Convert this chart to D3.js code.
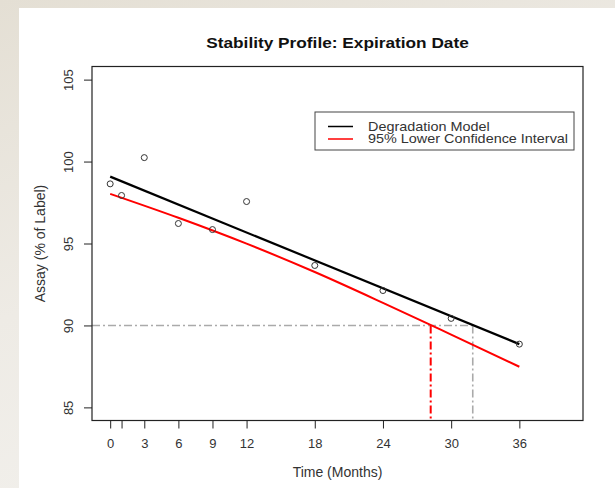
<!DOCTYPE html>
<html>
<head>
<meta charset="utf-8">
<script src="https://cdn.jsdelivr.net/npm/d3@7"></script>
<style>
html, body { margin: 0; padding: 0; }
body {
    width: 615px; height: 488px; overflow: hidden;
    background: linear-gradient(160deg, #e4dfd4 0%, #eeebe5 45%, #f4f3f0 100%);
}
svg { position: absolute; left: 0; top: 0; }
text { font-family: "Liberation Sans", Arial, sans-serif; }
</style>
</head>
<body>
<svg id="chart" width="615" height="488"></svg>
<script>
'use strict';

// observed assay results
var months = [0, 1, 3, 6, 9, 12, 18, 24, 30, 36];
var assay = [98.64, 97.93, 100.24, 96.22, 95.85, 97.56, 93.66, 92.13, 90.43, 88.86];

// fitted degradation model (straight line)
var modelMonths = [0, 36];
var modelValues = [99.08, 88.86];

// 95% lower confidence bound
var lowerMonths = [0, 6, 12, 18, 24, 30, 36];
var lowerValues = [98.03, 96.57, 94.99, 93.26, 91.38, 89.44, 87.48];

// spec limit and where the curves cross it
var specLimit = 90;
var expiryLower = 28.2;
var expiryModel = 31.9;

var xTicks = [0, 1, 3, 6, 9, 12, 18, 24, 30, 36];
var yTicks = [85, 90, 95, 100, 105];

var legendLabels = ['Degradation Model', '95% Lower Confidence Interval'];
var legendColors = ['#000000', '#ff0000'];

var svg = d3.select('#chart');

// white page
svg.append('rect')
    .attr('x', 19).attr('y', 8)
    .attr('width', 615 - 19).attr('height', 488 - 8)
    .attr('fill', '#ffffff');

var x = d3.scaleLinear().domain([-1.6, 41.6]).range([92, 583]);
var y = d3.scaleLinear().domain([84.2, 105.8]).range([420.5, 66.5]);

// reference lines at the spec limit
svg.append('line')
    .attr('x1', x.range()[0]).attr('x2', x(expiryModel))
    .attr('y1', y(specLimit)).attr('y2', y(specLimit))
    .attr('stroke', '#aaaaaa').attr('stroke-width', 1.6)
    .attr('stroke-dasharray', '8,3,2,3');
svg.append('line')
    .attr('x1', x(expiryModel)).attr('x2', x(expiryModel))
    .attr('y1', y(specLimit)).attr('y2', y.range()[0])
    .attr('stroke', '#aaaaaa').attr('stroke-width', 1.6)
    .attr('stroke-dasharray', '8,3,2,3');
svg.append('line')
    .attr('x1', x(expiryLower)).attr('x2', x(expiryLower))
    .attr('y1', y(specLimit)).attr('y2', y.range()[0])
    .attr('stroke', '#ff0000').attr('stroke-width', 2)
    .attr('stroke-dasharray', '8,3,2,3');

var line = d3.line()
    .x(function(d) { return x(d[0]); })
    .y(function(d) { return y(d[1]); });

svg.append('path')
    .datum(d3.zip(modelMonths, modelValues))
    .attr('d', line)
    .attr('fill', 'none').attr('stroke', '#000000').attr('stroke-width', 2.2);

svg.append('path')
    .datum(d3.zip(lowerMonths, lowerValues))
    .attr('d', line.curve(d3.curveMonotoneX))
    .attr('fill', 'none').attr('stroke', '#ff0000').attr('stroke-width', 2);

svg.selectAll('circle.pt')
    .data(d3.zip(months, assay))
    .enter().append('circle')
    .attr('class', 'pt')
    .attr('cx', function(d) { return x(d[0]); })
    .attr('cy', function(d) { return y(d[1]); })
    .attr('r', 3)
    .attr('fill', 'none').attr('stroke', '#333333').attr('stroke-width', 1);

// plot box
svg.append('rect')
    .attr('x', x.range()[0]).attr('y', y.range()[1])
    .attr('width', x.range()[1] - x.range()[0])
    .attr('height', y.range()[0] - y.range()[1])
    .attr('fill', 'none').attr('stroke', '#222222').attr('stroke-width', 1.2);

// axes
var xAxis = d3.axisBottom(x)
    .tickValues(xTicks)
    .tickSize(8)
    .tickPadding(10)
    .tickFormat(function(d) { return d === 1 ? '' : d; });

svg.append('g')
    .attr('transform', 'translate(0,' + y.range()[0] + ')')
    .call(xAxis)
    .call(function(g) { g.select('.domain').remove(); })
    .call(function(g) {
        g.attr('font-family', '"Liberation Sans", Arial, sans-serif').attr('font-size', 13);
        g.selectAll('line').attr('stroke', '#222222');
        g.selectAll('text').attr('fill', '#333333');
    });

var yAxis = d3.axisLeft(y).tickValues(yTicks).tickSize(8);

svg.append('g')
    .attr('transform', 'translate(' + x.range()[0] + ',0)')
    .call(yAxis)
    .call(function(g) { g.select('.domain').remove(); })
    .call(function(g) {
        g.attr('font-family', '"Liberation Sans", Arial, sans-serif').attr('font-size', 13);
        g.selectAll('line').attr('stroke', '#222222');
        g.selectAll('text')
            .attr('x', null).attr('dy', null)
            .attr('transform', 'translate(-19,0) rotate(-90)')
            .attr('text-anchor', 'middle')
            .attr('fill', '#333333');
    });

// titles (the source image is stretched a little sideways)
svg.append('text')
    .attr('transform', 'translate(337.5,48) scale(1.15,1)')
    .attr('text-anchor', 'middle')
    .attr('font-size', 15).attr('font-weight', 'bold')
    .attr('fill', '#111111')
    .text('Stability Profile: Expiration Date');

svg.append('text')
    .attr('x', 337.5).attr('y', 477)
    .attr('text-anchor', 'middle')
    .attr('font-size', 14).attr('fill', '#333333')
    .text('Time (Months)');

svg.append('text')
    .attr('transform', 'translate(45,243.5) rotate(-90)')
    .attr('text-anchor', 'middle')
    .attr('font-size', 14).attr('fill', '#333333')
    .text('Assay (% of Label)');

// legend
var legend = svg.append('g').attr('transform', 'translate(315,112)');
legend.append('rect')
    .attr('width', 259).attr('height', 38)
    .attr('fill', '#ffffff').attr('stroke', '#444444').attr('stroke-width', 1);

var items = legend.selectAll('g.item')
    .data(legendLabels)
    .enter().append('g')
    .attr('class', 'item')
    .attr('transform', function(d, i) { return 'translate(0,' + (14.5 + i * 12.5) + ')'; });

items.append('line')
    .attr('x1', 13).attr('x2', 38)
    .attr('stroke', function(d, i) { return legendColors[i]; })
    .attr('stroke-width', 1.5);

items.append('text')
    .attr('transform', 'translate(53,0) scale(1.2,1)')
    .attr('dy', '0.36em')
    .attr('font-size', 12).attr('fill', '#333333')
    .text(function(d) { return d; });
</script>
</body>
</html>
